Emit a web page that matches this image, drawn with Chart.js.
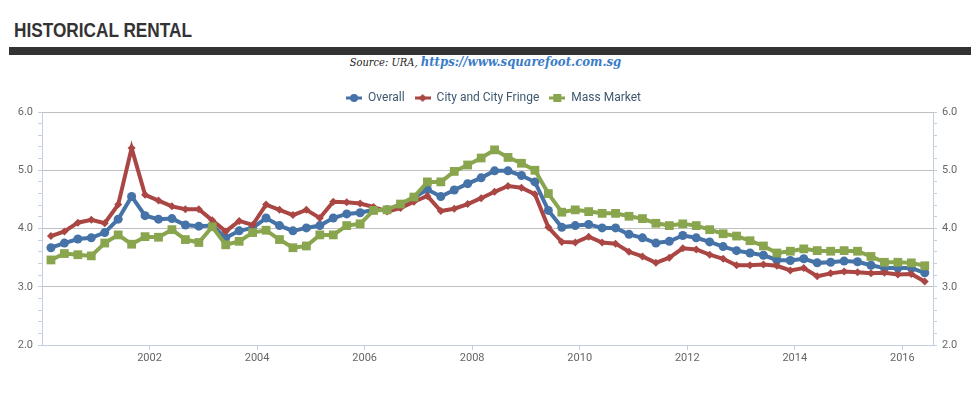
<!DOCTYPE html>
<html>
<head>
<meta charset="utf-8">
<title>Historical Rental</title>
<script src="https://cdn.jsdelivr.net/npm/chart.js@4.4.1/dist/chart.umd.min.js"></script>
<style>
  body {
    margin: 0;
    background: #fff;
    width: 971px;
    height: 397px;
    overflow: hidden;
    position: relative;
    font-family: Roboto, "Liberation Sans", sans-serif;
  }
  #title {
    position: absolute;
    left: 14px;
    top: 17px;
    margin: 0;
    font: bold 21px "Liberation Sans", sans-serif;
    line-height: 26px;
    color: #333;
    white-space: nowrap;
    transform: scaleX(0.82);
    transform-origin: left center;
  }
  #bar {
    position: absolute;
    left: 9px;
    right: 0;
    top: 47px;
    height: 8px;
    background: #333;
  }
  #source {
    position: absolute;
    left: 0;
    right: 0;
    top: 54px;
    text-align: center;
    font: italic 11px "DejaVu Serif Condensed", "DejaVu Serif", serif;
    color: #222;
    white-space: nowrap;
  }
  #source b {
    font-size: 13px;
    color: #3a7cc8;
  }
  #chart-container {
    position: absolute;
    left: 0;
    top: 82px;
    width: 971px;
    height: 288px;
  }
</style>
</head>
<body>
<h2 id="title">HISTORICAL RENTAL</h2>
<div id="bar"></div>
<div id="source">Source: URA, <b>https://www.squarefoot.com.sg</b></div>
<div id="chart-container"><canvas id="myChart"></canvas></div>

<script>
// quarterly points, 2000 Q1 .. 2016 Q2 (dated on the last month of each quarter)
const quarters = [
  "2000-03", "2000-06", "2000-09", "2000-12", "2001-03", "2001-06", "2001-09", "2001-12",
  "2002-03", "2002-06", "2002-09", "2002-12", "2003-03", "2003-06", "2003-09", "2003-12",
  "2004-03", "2004-06", "2004-09", "2004-12", "2005-03", "2005-06", "2005-09", "2005-12",
  "2006-03", "2006-06", "2006-09", "2006-12", "2007-03", "2007-06", "2007-09", "2007-12",
  "2008-03", "2008-06", "2008-09", "2008-12", "2009-03", "2009-06", "2009-09", "2009-12",
  "2010-03", "2010-06", "2010-09", "2010-12", "2011-03", "2011-06", "2011-09", "2011-12",
  "2012-03", "2012-06", "2012-09", "2012-12", "2013-03", "2013-06", "2013-09", "2013-12",
  "2014-03", "2014-06", "2014-09", "2014-12", "2015-03", "2015-06", "2015-09", "2015-12",
  "2016-03", "2016-06",
];

const overall = [
  3.67, 3.75, 3.82, 3.84, 3.93, 4.16, 4.55, 4.22,
  4.16, 4.17, 4.06, 4.04, 4.05, 3.84, 3.96, 4.01,
  4.18, 4.05, 3.96, 4.01, 4.05, 4.18, 4.25, 4.27,
  4.32, 4.32, 4.41, 4.53, 4.67, 4.55, 4.66, 4.77,
  4.87, 4.99, 4.99, 4.91, 4.80, 4.31, 4.02, 4.05,
  4.07, 4.01, 4.01, 3.90, 3.84, 3.75, 3.78, 3.88,
  3.84, 3.77, 3.69, 3.62, 3.58, 3.54, 3.46, 3.45,
  3.48, 3.41, 3.42, 3.44, 3.43, 3.37, 3.32, 3.32,
  3.32, 3.24,
];

const cityFringe = [
  3.87, 3.95, 4.10, 4.15, 4.09, 4.41, 5.38, 4.58,
  4.48, 4.38, 4.33, 4.33, 4.14, 3.95, 4.13, 4.06,
  4.41, 4.32, 4.23, 4.32, 4.18, 4.46, 4.45, 4.43,
  4.37, 4.29, 4.35, 4.46, 4.56, 4.30, 4.34, 4.42,
  4.52, 4.63, 4.73, 4.70, 4.59, 4.02, 3.77, 3.76,
  3.86, 3.76, 3.74, 3.60, 3.52, 3.41, 3.50, 3.66,
  3.64, 3.55, 3.48, 3.37, 3.37, 3.38, 3.36, 3.28,
  3.32, 3.18, 3.23, 3.26, 3.25, 3.23, 3.24, 3.21,
  3.22, 3.09,
];

const massMarket = [
  3.46, 3.57, 3.55, 3.53, 3.75, 3.89, 3.73, 3.86,
  3.85, 3.98, 3.81, 3.76, 4.03, 3.72, 3.78, 3.93,
  3.97, 3.81, 3.67, 3.70, 3.89, 3.89, 4.05, 4.08,
  4.31, 4.32, 4.42, 4.54, 4.80, 4.80, 4.98, 5.09,
  5.21, 5.35, 5.22, 5.12, 5.00, 4.60, 4.28, 4.32,
  4.29, 4.26, 4.26, 4.21, 4.17, 4.09, 4.05, 4.08,
  4.05, 3.98, 3.91, 3.87, 3.79, 3.70, 3.58, 3.61,
  3.65, 3.62, 3.61, 3.62, 3.61, 3.52, 3.42, 3.42,
  3.41, 3.36,
];

const yearTicks = [2002, 2004, 2006, 2008, 2010, 2012, 2014, 2016];

// "2003-06" -> decimal year on a linear axis
function toYear(q) {
  const [y, m] = q.split("-").map(Number);
  return y + (m - 1) / 12;
}

function toPoints(values) {
  return values.map((v, i) => ({ x: toYear(quarters[i]), y: v }));
}

// legend symbol: short line with the series marker in the middle
function legendSymbol(color, style) {
  const c = document.createElement("canvas");
  c.width = 16;
  c.height = 10;
  const g = c.getContext("2d");
  g.fillStyle = color;
  g.fillRect(0, 3.5, 16, 3);
  g.beginPath();
  if (style === "circle") {
    g.arc(8, 5, 4, 0, Math.PI * 2);
  } else if (style === "rectRot") {
    g.moveTo(8, 1);
    g.lineTo(12, 5);
    g.lineTo(8, 9);
    g.lineTo(4, 5);
    g.closePath();
  } else {
    g.rect(4, 1, 8, 8);
  }
  g.fill();
  return c;
}

const isMajor = (v) => Math.abs(v - Math.round(v)) < 1e-6;

const axisBlue = "#c0d0e0";
const gridGray = "#c0c0c0";

function yAxis(position, width) {
  return {
    type: "linear",
    position: position,
    min: 2,
    max: 6,
    afterBuildTicks: (scale) => {
      const ticks = [];
      for (let i = 0; i <= 20; i++) ticks.push({ value: 2 + i * 0.2 });
      scale.ticks = ticks;
    },
    afterFit: (scale) => {
      scale.width = width;
    },
    border: { color: axisBlue, width: 1 },
    grid: {
      drawOnChartArea: position === "left",
      color: (ctx) =>
        isMajor(ctx.tick.value) && ctx.tick.value > 2.01 ? gridGray : "rgba(0,0,0,0)",
      tickColor: axisBlue,
      tickLength: 4,
      lineWidth: 1,
    },
    ticks: {
      autoSkip: false,
      padding: 5,
      color: "#666",
      font: { family: "Roboto, 'Liberation Sans', sans-serif", size: 11 },
      callback: (v) => (isMajor(v) ? Number(v).toFixed(1) : ""),
    },
  };
}

document.addEventListener("DOMContentLoaded", () => {
  const ctx = document.getElementById("myChart").getContext("2d");

  // legend box a bit shorter than default and nudged right, like the original
  const tightLegend = {
    id: "tightLegend",
    afterInit(chart) {
      const fit = chart.legend.fit;
      chart.legend.fit = function () {
        fit.call(this);
        this.height -= 2;
      };
    },
    afterLayout(chart) {
      chart.legend.left += 8;
      chart.legend.right += 8;
    },
  };

  const series = [
    { label: "Overall", data: overall, color: "#4572a7", style: "circle", radius: 4.5, order: 3 },
    { label: "City and City Fringe", data: cityFringe, color: "#aa4643", style: "rectRot", radius: 4, order: 2 },
    { label: "Mass Market", data: massMarket, color: "#89a54e", style: "rect", radius: 6.2, order: 1 },
  ];

  new Chart(ctx, {
    type: "line",
    data: {
      datasets: series.map((s) => ({
        label: s.label,
        data: toPoints(s.data),
        borderColor: s.color,
        backgroundColor: s.color,
        borderWidth: 4,
        pointStyle: s.style,
        pointRadius: s.radius,
        pointBorderWidth: 0,
        pointBackgroundColor: s.color,
        tension: 0,
        fill: false,
        order: s.order,
      })),
    },
    options: {
      responsive: true,
      maintainAspectRatio: false,
      animation: false,
      layout: { padding: 0 },
      plugins: {
        tooltip: { enabled: false },
        legend: {
          position: "top",
          labels: {
            usePointStyle: true,
            pointStyleWidth: 16,
            padding: 10,
            color: "#3e576f",
            font: { family: "Roboto, 'Liberation Sans', sans-serif", size: 12 },
            generateLabels: () =>
              series.map((s, i) => ({
                text: s.label,
                pointStyle: legendSymbol(s.color, s.style),
                fontColor: "#3e576f",
                lineWidth: 0,
                datasetIndex: i,
              })),
          },
        },
      },
      scales: {
        x: {
          type: "linear",
          position: "bottom",
          min: 2000,
          max: 2016.57,
          afterBuildTicks: (scale) => {
            scale.ticks = yearTicks.map((v) => ({ value: v }));
          },
          afterFit: (scale) => {
            scale.height = 25;
          },
          border: { color: axisBlue, width: 1 },
          grid: {
            drawOnChartArea: false,
            tickColor: axisBlue,
            tickLength: 5,
          },
          ticks: {
            autoSkip: false,
            maxRotation: 0,
            padding: 2,
            color: "#666",
            font: { family: "Roboto, 'Liberation Sans', sans-serif", size: 11 },
            callback: (v) => String(v),
          },
        },
        y: yAxis("left", 42),
        y2: yAxis("right", 38),
      },
    },
    plugins: [tightLegend],
  });
});
</script>
</body>
</html>
